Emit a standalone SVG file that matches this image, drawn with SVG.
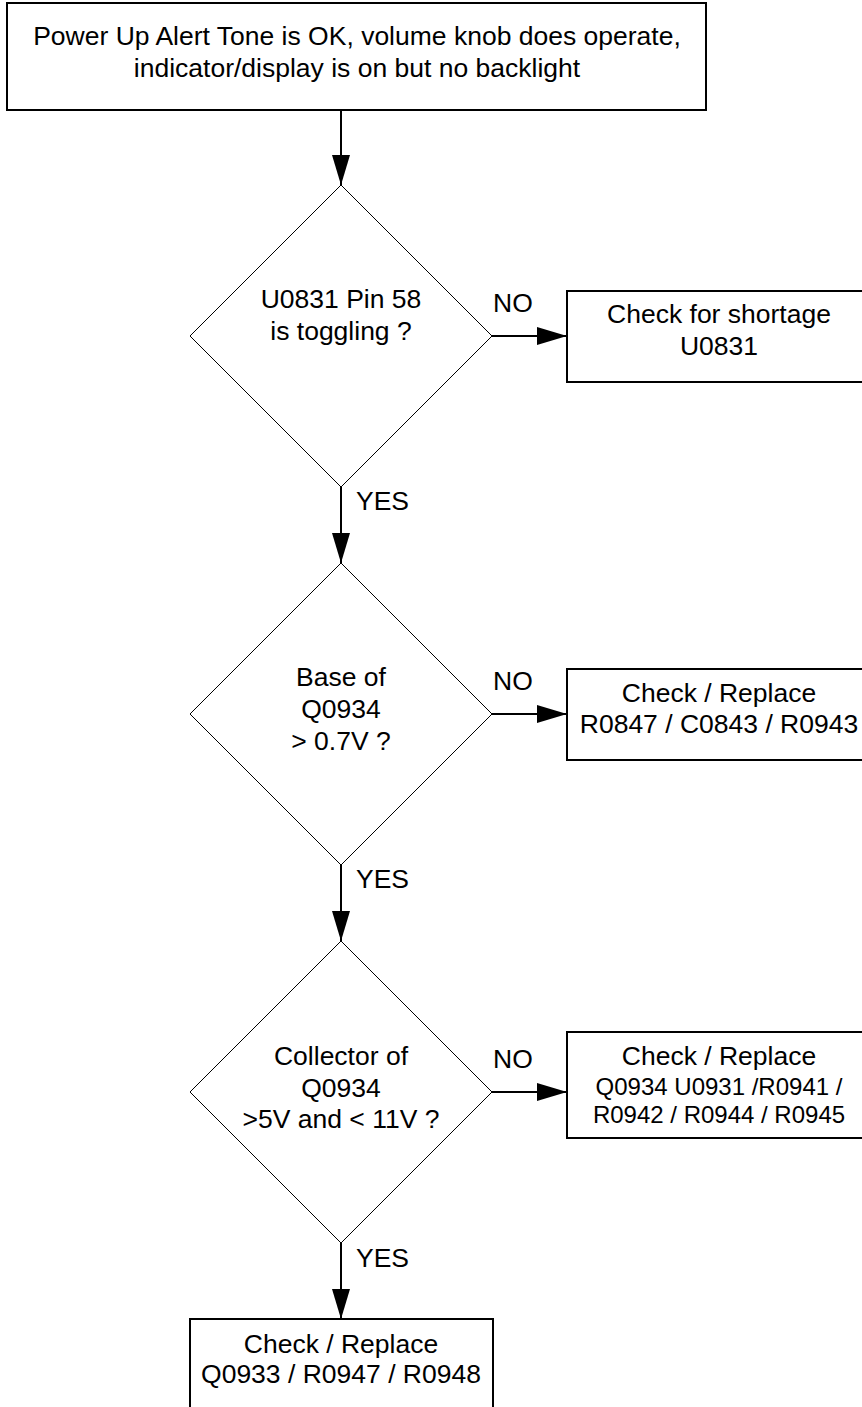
<svg xmlns="http://www.w3.org/2000/svg" width="862" height="1407" viewBox="0 0 862 1407">
<style>
.box{fill:#fff;stroke:#000;stroke-width:2}
.dia{fill:#fff;stroke:#000;stroke-width:1}
.t{font-family:"Liberation Sans",Arial,sans-serif;font-size:26.5px;fill:#000;text-anchor:middle}
.s{font-size:24px}
.lbl{font-family:"Liberation Sans",Arial,sans-serif;font-size:26.5px;fill:#000}
.con{stroke:#000;stroke-width:2;fill:none;marker-end:url(#arr)}
</style>
<defs>
<marker id="arr" markerUnits="userSpaceOnUse" markerWidth="30" markerHeight="18" refX="30" refY="9" orient="auto" viewBox="0 0 30 18">
<path d="M0,0 L30,9 L0,18 Z" fill="#000"/>
</marker>
</defs>
<rect width="862" height="1407" fill="#fff"/>
<g id="start">
<rect class="box" x="7" y="3" width="699" height="107"/>
<text class="t" x="357" y="45">Power Up Alert Tone is OK, volume knob does operate,</text>
<text class="t" x="357" y="77">indicator/display is on but no backlight</text>
</g>
<g id="d1">
<polygon class="dia" points="341,185 492,336 341,487 190,336"/>
<text class="t" x="341" y="308">U0831 Pin 58</text>
<text class="t" x="341" y="340">is toggling ?</text>
</g>
<g id="r1">
<rect class="box" x="567" y="291" width="304" height="91"/>
<text class="t" x="719" y="323">Check for shortage</text>
<text class="t" x="719" y="355">U0831</text>
</g>
<g id="d2">
<polygon class="dia" points="341,563 492,714 341,865 190,714"/>
<text class="t" x="341" y="686">Base of</text>
<text class="t" x="341" y="718">Q0934</text>
<text class="t" x="341" y="750">&gt; 0.7V ?</text>
</g>
<g id="r2">
<rect class="box" x="567" y="669" width="304" height="91"/>
<text class="t" x="719" y="702">Check / Replace</text>
<text class="t" x="719" y="733">R0847 / C0843 / R0943</text>
</g>
<g id="d3">
<polygon class="dia" points="341,941 492,1092 341,1243 190,1092"/>
<text class="t" x="341" y="1065">Collector of</text>
<text class="t" x="341" y="1097">Q0934</text>
<text class="t" x="341" y="1128">&gt;5V and &lt; 11V ?</text>
</g>
<g id="r3">
<rect class="box" x="567" y="1032" width="304" height="106"/>
<text class="t" x="719" y="1065">Check / Replace</text>
<text class="t s" x="719" y="1095">Q0934 U0931 /R0941 /</text>
<text class="t s" x="719" y="1123">R0942 / R0944 / R0945</text>
</g>
<g id="end">
<rect class="box" x="190" y="1319" width="303" height="100"/>
<text class="t" x="341" y="1353">Check / Replace</text>
<text class="t" x="341" y="1383">Q0933 / R0947 / R0948</text>
</g>
<g id="connectors">
<line class="con" x1="341" y1="110" x2="341" y2="185"/>
<line class="con" x1="492" y1="336" x2="567" y2="336"/>
<line class="con" x1="341" y1="487" x2="341" y2="563"/>
<line class="con" x1="492" y1="714" x2="567" y2="714"/>
<line class="con" x1="341" y1="865" x2="341" y2="941"/>
<line class="con" x1="492" y1="1092" x2="567" y2="1092"/>
<line class="con" x1="341" y1="1243" x2="341" y2="1319"/>
<text class="lbl" x="493" y="312">NO</text>
<text class="lbl" x="356" y="510">YES</text>
<text class="lbl" x="493" y="690">NO</text>
<text class="lbl" x="356" y="888">YES</text>
<text class="lbl" x="493" y="1068">NO</text>
<text class="lbl" x="356" y="1267">YES</text>
</g>
</svg>
